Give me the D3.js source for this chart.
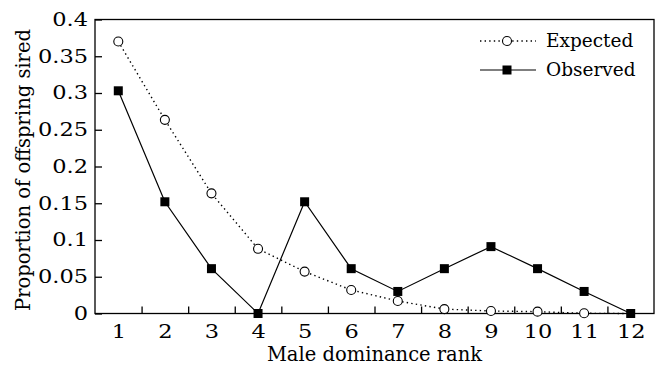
<!DOCTYPE html>
<html>
<head>
<meta charset="utf-8">
<script src="https://cdn.jsdelivr.net/npm/d3@7"></script>
<style>
  html, body { margin: 0; padding: 0; background: #fff; }
  svg { display: block; font-family: "DejaVu Serif", "Liberation Serif", serif; }
</style>
</head>
<body>
<svg id="chart" width="661" height="372"></svg>
<script>
// dominance ranks on the x axis
const ranks = [1, 2, 3, 4, 5, 6, 7, 8, 9, 10, 11, 12];
// proportion of offspring sired
const expected = [0.37, 0.2635, 0.1635, 0.088, 0.057, 0.032, 0.017, 0.006, 0.0034, 0.0025, 0.0003, 0.0];
const observed = [0.303, 0.152, 0.061, 0, 0.152, 0.061, 0.030, 0.061, 0.091, 0.061, 0.030, 0];
const yTicks = [0, 0.05, 0.1, 0.15, 0.2, 0.25, 0.3, 0.35, 0.4];
const yTickLabels = ["0", "0.05", "0.1", "0.15", "0.2", "0.25", "0.3", "0.35", "0.4"];
const seriesNames = ["Expected", "Observed"];

const svg = d3.select("#chart");
const margin = { top: 19.5, right: 7, bottom: 58.5, left: 95 };
const W = 661, H = 372;

// x: one band per rank, ticks sit between ranks
const x = d3.scaleLinear().domain([0.5, 12.5]).range([margin.left, W - margin.right]);
const y = d3.scaleLinear().domain([0, 0.4]).range([H - margin.bottom, margin.top]);

// axis groups get d3's default sans font; take the svg serif instead
// the original numerals are a bit wider than ours, so stretch them
function serifText(g) {
  g.attr("font-family", null).attr("font-size", null);
  g.selectAll("text").attr("font-size", 18).attr("fill", "#000")
    .attr("transform", "scale(1.25,1)");
}

// tick marks between categories (pointing inward)
svg.append("g")
  .attr("transform", `translate(0,${y(0)})`)
  .call(d3.axisBottom(x).tickValues(ranks.slice(0, -1).map(d => d + 0.5)).tickSize(-7).tickFormat(""))
  .call(g => g.select(".domain").remove())
  .call(g => g.selectAll("line").attr("stroke", "#000").attr("stroke-width", 1.3));

// rank labels
svg.append("g")
  .attr("transform", `translate(0,${y(0)})`)
  .call(d3.axisBottom(x).tickValues(ranks).tickSize(0).tickPadding(12).tickFormat(d3.format("d")))
  .call(g => g.select(".domain").remove())
  .call(serifText);

// y axis
svg.append("g")
  .attr("transform", `translate(${x(0.5)},0)`)
  .call(d3.axisLeft(y).tickValues(yTicks).tickSize(-7).tickPadding(5.6)
    .tickFormat((d, i) => yTickLabels[i]))
  .call(g => g.select(".domain").remove())
  .call(g => g.selectAll("line").attr("stroke", "#000").attr("stroke-width", 1.3))
  .call(serifText);

// frame
svg.append("rect")
  .attr("x", x(0.5)).attr("y", y(0.4))
  .attr("width", x(12.5) - x(0.5)).attr("height", y(0) - y(0.4))
  .attr("fill", "none").attr("stroke", "#000").attr("stroke-width", 1.3);

const line = d3.line().x((d, i) => x(ranks[i])).y(d => y(d));

// expected: dotted line with open circles
svg.append("path")
  .datum(expected)
  .attr("d", line)
  .attr("fill", "none").attr("stroke", "#000").attr("stroke-width", 1.4)
  .attr("stroke-dasharray", "1.4,3.2");

// observed: solid line with filled squares
svg.append("path")
  .datum(observed)
  .attr("d", line)
  .attr("fill", "none").attr("stroke", "#000").attr("stroke-width", 1.2);

svg.append("g").selectAll("circle")
  .data(expected.slice(0, -1))
  .join("circle")
  .attr("cx", (d, i) => x(ranks[i])).attr("cy", d => y(d))
  .attr("r", 4.5)
  .attr("fill", "#fff").attr("stroke", "#000").attr("stroke-width", 1.1);

const sq = 9;
svg.append("g").selectAll("rect")
  .data(observed)
  .join("rect")
  .attr("x", (d, i) => x(ranks[i]) - sq / 2).attr("y", d => y(d) - sq / 2)
  .attr("width", sq).attr("height", sq)
  .attr("fill", "#000");

// legend
const legend = svg.append("g");
const legendY = [41, 70];
legend.append("line")
  .attr("x1", 480).attr("x2", 536).attr("y1", legendY[0]).attr("y2", legendY[0])
  .attr("stroke", "#000").attr("stroke-width", 1.4).attr("stroke-dasharray", "1.4,3.2");
legend.append("circle")
  .attr("cx", 507).attr("cy", legendY[0]).attr("r", 4.5)
  .attr("fill", "#fff").attr("stroke", "#000").attr("stroke-width", 1.1);
legend.append("line")
  .attr("x1", 480).attr("x2", 536).attr("y1", legendY[1]).attr("y2", legendY[1])
  .attr("stroke", "#000").attr("stroke-width", 1.2);
legend.append("rect")
  .attr("x", 507 - sq / 2).attr("y", legendY[1] - sq / 2).attr("width", sq).attr("height", sq)
  .attr("fill", "#000");
legend.selectAll("text")
  .data(seriesNames)
  .join("text")
  .attr("x", 546).attr("y", (d, i) => legendY[i])
  .attr("dy", "0.35em")
  .attr("font-size", 18.5)
  .text(d => d);

// axis titles
svg.append("text")
  .attr("x", (x(0.5) + x(12.5)) / 2).attr("y", 361)
  .attr("text-anchor", "middle").attr("font-size", 19.5)
  .text("Male dominance rank");

svg.append("text")
  .attr("transform", `translate(30,170) rotate(-90)`)
  .attr("text-anchor", "middle").attr("font-size", 19.5)
  .text("Proportion of offspring sired");
</script>
</body>
</html>
